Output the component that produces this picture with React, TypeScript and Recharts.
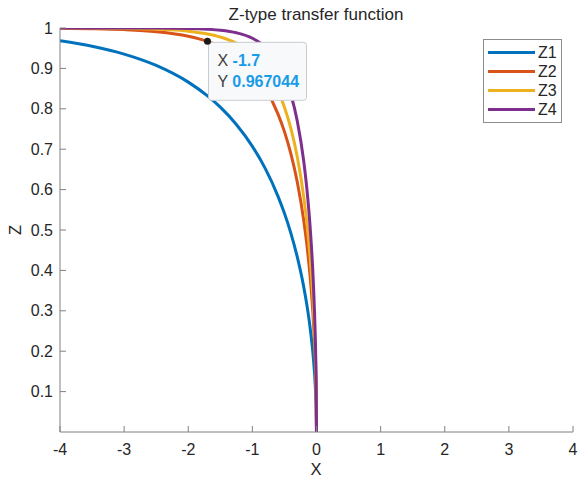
import { LineChart, Line, XAxis, YAxis, ReferenceDot } from "recharts";

// x samples (denser near 0 where the curves drop)
const xValues = [
  -4, -3.5, -3, -2.5, -2, -1.7, -1.5, -1.25, -1, -0.8, -0.6, -0.5, -0.4, -0.3,
  -0.2, -0.15, -0.1, -0.05, -0.02, -0.01, -0.005, 0,
];
const z1 = [
  0.9682, 0.9548, 0.9354, 0.9073, 0.866, 0.832, 0.804, 0.7613, 0.7071, 0.6524,
  0.5833, 0.5412, 0.4921, 0.4333, 0.3598, 0.3142, 0.2588, 0.1846, 0.1173,
  0.0831, 0.0588, 0,
];
const z2 = [
  0.9992, 0.9982, 0.996, 0.991, 0.9798, 0.967, 0.9542, 0.9307, 0.8944, 0.8509,
  0.7869, 0.7435, 0.689, 0.6188, 0.5246, 0.4631, 0.3856, 0.2781, 0.178, 0.1264,
  0.0895, 0,
];
const z3 = [
  0.9999, 0.9997, 0.999, 0.9972, 0.9922, 0.9853, 0.9777, 0.9621, 0.9354, 0.9003,
  0.8443, 0.804, 0.7515, 0.6813, 0.5833, 0.5177, 0.4333, 0.3143, 0.2018,
  0.1435, 0.1017, 0,
];
const z4 = [
  1.0, 1.0, 0.9999, 0.9997, 0.9988, 0.9969, 0.9944, 0.9881, 0.9747, 0.9534,
  0.9134, 0.8811, 0.8357, 0.77, 0.6714, 0.6016, 0.5088, 0.373, 0.2411, 0.1718,
  0.1219, 0,
];
const xTicks = [-4, -3, -2, -1, 0, 1, 2, 3, 4];
const yTicks = [0.1, 0.2, 0.3, 0.4, 0.5, 0.6, 0.7, 0.8, 0.9, 1];

const tip = { x: -1.7, y: 0.967044 };

const data = xValues.map((x, i) => ({
  x,
  Z1: z1[i],
  Z2: z2[i],
  Z3: z3[i],
  Z4: z4[i],
}));

const series = [
  { key: "Z1", color: "#0072BD" },
  { key: "Z2", color: "#D95319" },
  { key: "Z3", color: "#EDB120" },
  { key: "Z4", color: "#7E2F8E" },
];

const FONT = "'Liberation Sans', Arial, sans-serif";
const AXIS = "#808080";
const TEXT = "#262626";

// tick marks point into the plot, like MATLAB's default
function XTick({ x, y, payload }: any) {
  return (
    <g>
      <line x1={x} x2={x} y1={y} y2={y - 6} stroke={AXIS} />
      <text x={x} y={y + 23} textAnchor="middle" fontSize={16} fill={TEXT} fontFamily={FONT}>
        {payload.value}
      </text>
    </g>
  );
}

function YTick({ x, y, payload }: any) {
  return (
    <g>
      <line x1={x} x2={x + 6} y1={y} y2={y} stroke={AXIS} />
      <text x={x - 7} y={y + 5.5} textAnchor="end" fontSize={16} fill={TEXT} fontFamily={FONT}>
        {payload.value}
      </text>
    </g>
  );
}

function DataTip({ cx, cy }: any) {
  return (
    <g>
      <rect
        x={cx + 1}
        y={cy + 1}
        width={98}
        height={58}
        rx={3}
        fill="#f8f9fb"
        stroke="#c8ccd2"
      />
      <circle cx={cx} cy={cy} r={3.5} fill="#1a1a1a" />
      <text x={cx + 10} y={cy + 25} fontSize={16} fontFamily={FONT} fill="#404040">
        X <tspan fill="#1a9be6" fontWeight="bold">-1.7</tspan>
      </text>
      <text x={cx + 10} y={cy + 46} fontSize={16} fontFamily={FONT} fill="#404040">
        Y <tspan fill="#1a9be6" fontWeight="bold">0.967044</tspan>
      </text>
    </g>
  );
}

function LegendBox() {
  return (
    <div
      style={{
        position: "absolute",
        left: 483,
        top: 39,
        border: "1px solid #8c8c8c",
        background: "#fff",
        width: 77,
        padding: "3px 0 3px 0",
        fontFamily: FONT,
        fontSize: 16,
        color: TEXT,
      }}
    >
      {series.map((s) => (
        <div key={s.key} style={{ display: "flex", alignItems: "center", height: 19 }}>
          <span
            style={{
              display: "inline-block",
              width: 47,
              height: 3,
              background: s.color,
              marginLeft: 4,
              marginRight: 3,
            }}
          />
          {s.key}
        </div>
      ))}
    </div>
  );
}

export default function App() {
  return (
    <div style={{ position: "fixed", left: 0, top: 0, background: "#fff" }}>
      <LineChart
        width={579}
        height={479}
        data={data}
        margin={{ top: 28, right: 6, bottom: 0, left: 0 }}
      >
        <text x={316} y={20} textAnchor="middle" fontSize={17} fill={TEXT} fontFamily={FONT}>
          Z-type transfer function
        </text>
        <text x={316} y={475} textAnchor="middle" fontSize={16.5} fill={TEXT} fontFamily={FONT}>
          X
        </text>
        <text
          x={21}
          y={230}
          textAnchor="middle"
          fontSize={16.5}
          fill={TEXT}
          fontFamily={FONT}
          transform="rotate(-90 21 230)"
        >
          Z
        </text>
        <XAxis
          dataKey="x"
          type="number"
          domain={[-4, 4]}
          ticks={xTicks}
          height={47}
          stroke={AXIS}
          tickLine={false}
          tickSize={0}
          tickMargin={0}
          tick={<XTick />}
          interval={0}
          allowDataOverflow
        />
        <YAxis
          type="number"
          domain={[0, 1]}
          ticks={yTicks}
          width={60}
          stroke={AXIS}
          tickLine={false}
          tickSize={0}
          tickMargin={0}
          tick={<YTick />}
          interval={0}
          allowDataOverflow
        />
        {series.map((s) => (
          <Line
            key={s.key}
            type="monotone"
            dataKey={s.key}
            stroke={s.color}
            strokeWidth={3}
            dot={false}
            isAnimationActive={false}
          />
        ))}
        <ReferenceDot x={tip.x} y={tip.y} r={3} shape={<DataTip />} />
      </LineChart>
      <LegendBox />
    </div>
  );
}
